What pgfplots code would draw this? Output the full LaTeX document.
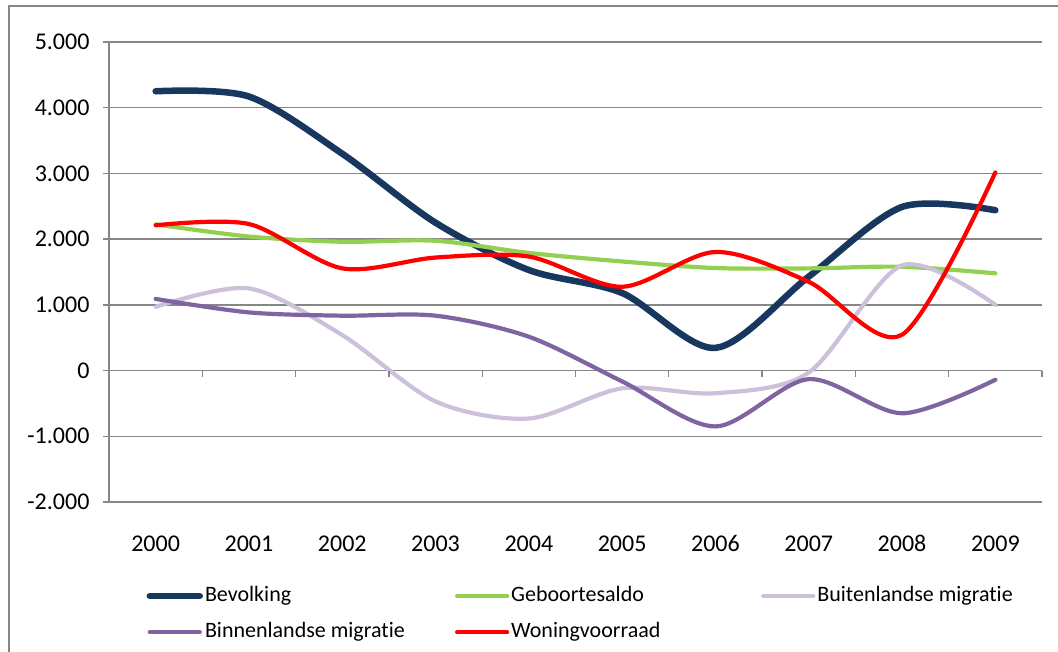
\documentclass[border=0pt]{standalone}
\usepackage{fontspec}
\setmainfont{Carlito}[Ligatures={NoCommon}, Numbers={Lining,Monospaced}]
\usepackage{pgfplots}
\pgfplotsset{compat=1.18}
\definecolor{cBev}{RGB}{23,55,94}
\definecolor{cGeb}{RGB}{146,208,80}
\definecolor{cBui}{RGB}{204,192,218}
\definecolor{cBin}{RGB}{128,100,162}
\definecolor{cWon}{RGB}{255,0,0}
\definecolor{cGrid}{RGB}{134,134,134}
\newcommand{\cf}{\fontsize{22}{26}\selectfont}
\newcommand{\tf}{\fontsize{24}{28}\selectfont}
\begin{document}
\begin{tikzpicture}[font=\cf]
\useasboundingbox (0pt,0pt) rectangle (1058pt,652pt);
\draw[cGrid, line width=1.8pt] (9pt,0pt) -- (9pt,646pt) -- (1058pt,646pt);
\begin{axis}[
  at={(109pt,150pt)}, anchor=south west,
  scale only axis, width=933pt, height=460pt,
  xmin=-0.5, xmax=9.5, ymin=-2000, ymax=5000,
  axis lines*=left,
  axis line style={cGrid, line width=1.3pt},
  xtick={0,...,9},
  xticklabels={2000,2001,2002,2003,2004,2005,2006,2007,2008,2009},
  x tick style={draw=none},
  ytick={-2000,-1000,0,1000,2000,3000,4000,5000},
  yticklabels={{-2.000},{-1.000},{0},{1.000},{2.000},{3.000},{4.000},{5.000}},
  y tick style={cGrid, line width=1.3pt},
  tick align=outside, major tick length=6pt,
  ymajorgrids, grid style={cGrid, line width=1.3pt},
  tick label style={font=\tf},
  yticklabel style={xshift=-10pt},
  xticklabel style={anchor=north, text height=16pt, text depth=0pt, yshift=-24pt},
  legend columns=3,
  legend style={at={(0.04,-0.177)}, anchor=north west, draw=none, fill=none, font=\cf,
    inner sep=0pt, row sep=11pt, column sep=0pt,
    nodes={inner sep=2pt, text height=16pt, text depth=5pt, anchor=west}},
  legend cell align=left,
  legend image code/.code={\draw[#1, line cap=round] (0pt,0pt) -- (50pt,0pt);},
  every axis plot/.append style={smooth, tension=0.5, line cap=round, line join=round},
  clip=false,
]
\addplot[cBev, line width=6.5pt] coordinates {(0,4250) (1,4170) (2,3300) (3,2250) (4,1530) (5,1180) (6,345) (7,1430) (8,2490) (9,2440)};
\addlegendentry{\makebox[248pt][l]{Bevolking}}
\addplot[cGeb, line width=4.2pt] coordinates {(0,2225) (1,2040) (2,1960) (3,1975) (4,1790) (5,1660) (6,1560) (7,1555) (8,1580) (9,1480)};
\addlegendentry{\makebox[248pt][l]{Geboortesaldo}}
\addplot[cBui, line width=4.2pt] coordinates {(0,970) (1,1250) (2,540) (3,-470) (4,-730) (5,-270) (6,-345) (7,-30) (8,1600) (9,1000)};
\addlegendentry{\makebox[248pt][l]{Buitenlandse migratie}}
\addplot[cBin, line width=4.2pt] coordinates {(0,1090) (1,885) (2,835) (3,835) (4,515) (5,-165) (6,-850) (7,-130) (8,-650) (9,-140)};
\addlegendentry{\makebox[248pt][l]{Binnenlandse migratie}}
\addplot[cWon, line width=4.2pt] coordinates {(0,2210) (1,2230) (2,1555) (3,1720) (4,1735) (5,1275) (6,1805) (7,1350) (8,545) (9,3015)};
\addlegendentry{\makebox[248pt][l]{Woningvoorraad}}
\pgfplotsinvokeforeach{0.5,1.5,2.5,3.5,4.5,5.5,6.5,7.5,8.5,9.5}{
  \draw[cGrid, line width=1.3pt] (axis cs:#1,0) -- ++(0pt,-6pt);
}
\end{axis}
\end{tikzpicture}
\end{document}
